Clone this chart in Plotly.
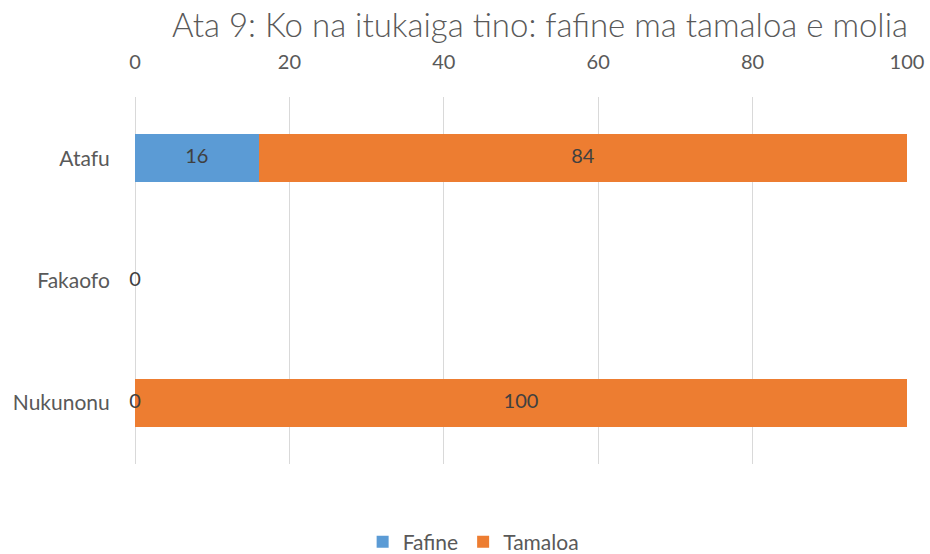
import plotly.graph_objects as go

categories = ["Atafu", "Fakaofo", "Nukunonu"]
fafine = [16, 0, 0]
tamaloa = [84, 0, 100]
x_ticks = [0, 20, 40, 60, 80, 100]
title_text = "Ata 9: Ko na itukaiga tino: fafine ma tamaloa e molia"

BLUE = "#5b9bd5"
ORANGE = "#ed7d31"
FONT = "Lato"

fig = go.Figure()
fig.add_trace(go.Bar(y=categories, x=fafine, orientation="h", name="Fafine",
                     marker=dict(color=BLUE, line=dict(width=0)), width=0.39,
                     hoverinfo="x+y"))
fig.add_trace(go.Bar(y=categories, x=tamaloa, orientation="h", name="Tamaloa",
                     marker=dict(color=ORANGE, line=dict(width=0)), width=0.39,
                     hoverinfo="x+y"))

# data labels at segment centres (computed from the data)
lab_x, lab_y, lab_t = [], [], []
for c, f, t in zip(categories, fafine, tamaloa):
    lab_x.append(f / 2); lab_y.append(c); lab_t.append(str(f))
    if t > 0:
        lab_x.append(f + t / 2); lab_y.append(c); lab_t.append(str(t))
fig.add_trace(go.Scatter(x=lab_x, y=lab_y, text=lab_t, mode="text",
                         textfont=dict(family=FONT, size=20, color="#404040"),
                         cliponaxis=False, showlegend=False, hoverinfo="skip"))

fig.update_layout(
    barmode="stack",
    width=930, height=554,
    margin=dict(l=135, r=23, t=97, b=90, autoexpand=False),
    paper_bgcolor="white", plot_bgcolor="white",
    font=dict(family=FONT, color="#595959"),
    title=dict(text=title_text, x=540 / 930, xref="container", xanchor="center",
               y=1 - 25 / 554, yref="container", yanchor="middle",
               font=dict(family=FONT, size=33, color="#595959", weight=300)),
    xaxis=dict(side="top", range=[0, 100], tickvals=x_ticks, showgrid=True,
               gridcolor="#d9d9d9", gridwidth=1,
               zeroline=True, zerolinecolor="#d9d9d9", zerolinewidth=1, showline=False,
               ticks="outside", ticklen=19, tickcolor="rgba(0,0,0,0)", automargin=False,
               tickfont=dict(family=FONT, size=20, color="#595959"), fixedrange=True),
    yaxis=dict(categoryorder="array", categoryarray=categories, autorange="reversed",
               showgrid=False, zeroline=False, showline=False, automargin=False,
               ticks="outside", ticklen=20, tickcolor="rgba(0,0,0,0)",
               tickfont=dict(family=FONT, size=21, color="#595959")),
    legend=dict(orientation="h", x=0.438, xanchor="center", y=-0.2125, yanchor="middle",
                font=dict(family=FONT, size=21, color="#595959"), traceorder="normal"),
    bargap=0.61,
)

fig.write_html("out.html", config={"displayModeBar": False},
               post_script="document.body.style.margin='0';document.body.style.padding='0';")
